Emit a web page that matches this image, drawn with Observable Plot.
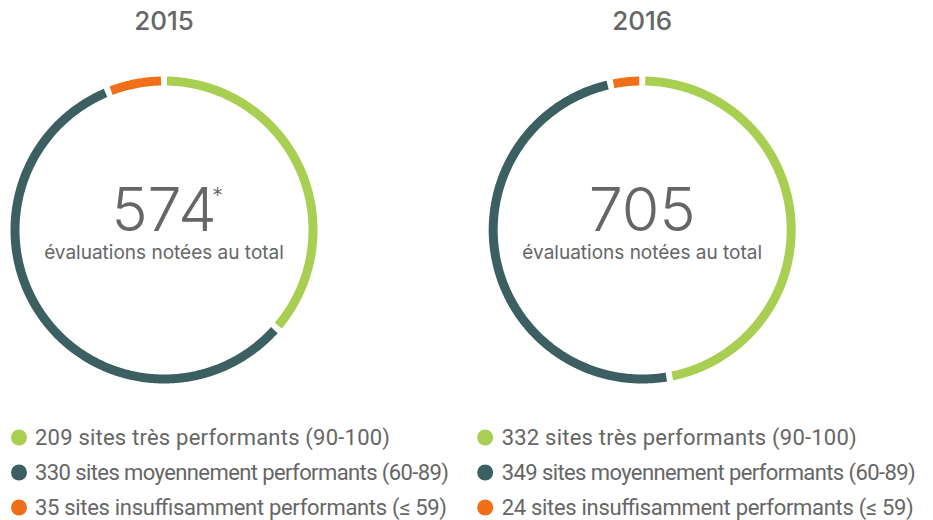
<!DOCTYPE html>
<html><head><meta charset="utf-8">
<script src="https://cdn.jsdelivr.net/npm/d3@7"></script>
<script src="https://cdn.jsdelivr.net/npm/@observablehq/plot@0.6"></script>
<style>body{margin:0;background:#fff;}</style>
</head><body><div id="chart"></div>
<script>
const years = ["2015", "2016"];
const categories = ["sites très performants (90-100)", "sites moyennement performants (60-89)", "sites insuffisamment performants (≤ 59)"];
const values2015 = [209, 330, 35];
const values2016 = [332, 349, 24];
const totalNotes = ["*", ""];
const centerLabel = "évaluations notées au total";

const palette = ["#a8cf52", "#3c5f62", "#f26f1a"];
const W = 933, H = 520;
const cx = [163.5, 641.7], cy = 229.5, R = 149, ring = 9, gap = 6 / R;
const font = "Inter, 'Noto Sans', sans-serif";
const legendFont = "Roboto, 'Liberation Sans', sans-serif";
const legendWidths = [355, 414, 412];
const grey = "#666666";

const series = [values2015, values2016];
const arcPts = [];
series.forEach((vals, i) => {
  const total = d3.sum(vals);
  let acc = 0;
  vals.forEach((v, j) => {
    const a0 = acc / total * 2 * Math.PI + gap / 2;
    acc += v;
    const a1 = acc / total * 2 * Math.PI - gap / 2;
    const n = Math.max(2, Math.ceil((a1 - a0) / (Math.PI / 360)));
    for (let k = 0; k <= n; k++) {
      const a = a0 + (a1 - a0) * k / n;
      arcPts.push({key: years[i] + "-" + j, cat: categories[j], px: cx[i] + R * Math.sin(a), py: cy - R * Math.cos(a)});
    }
  });
});
const centers = years.map((y, i) => ({year: y, i, total: d3.sum(series[i]), note: totalNotes[i]}));
const legendRows = series.flatMap((vals, i) => vals.map((v, j) => ({i, j, cat: categories[j], label: `${v} ${categories[j]}`})));
const dotX = [18.5, 484.7], textX = [34.5, 501.2], rowY0 = 437, rowStep = 35;

const chart = Plot.plot({
  width: W, height: H, margin: 0,
  style: {background: "#fff", fontFamily: font},
  x: {domain: [0, W], range: [0, W], axis: null},
  y: {domain: [0, H], range: [0, H], axis: null},
  color: {domain: categories, range: palette},
  marks: [
    Plot.line(arcPts, {x: "px", y: "py", z: "key", stroke: "cat", strokeWidth: ring, strokeLinecap: "butt", strokeLinejoin: "round", curve: "linear"}),
    Plot.text(centers, {x: d => cx[d.i], y: 21.5, text: "year", fontSize: 26, fontWeight: 500, fill: grey, fontFamily: font}),
    Plot.text(centers, {x: d => cx[d.i], y: 211, text: d => String(d.total), fontSize: 61, fontWeight: 300, fill: grey, fontFamily: font}),
    Plot.text(centers.filter(d => d.note), {x: d => cx[d.i] + 48, y: 195, text: "note", fontSize: 22, fontWeight: 300, fill: grey, textAnchor: "start", fontFamily: font}),
    Plot.text(centers, {x: d => cx[d.i], y: 252, text: () => centerLabel, fontSize: 19, fill: grey, fontFamily: font}),
    Plot.dot(legendRows, {x: d => dotX[d.i], y: d => rowY0 + d.j * rowStep, r: 8, fill: "cat"}),
    Plot.text(legendRows, {x: d => textX[d.i], y: d => rowY0 + d.j * rowStep, text: "label", fontSize: 22, fill: grey, textAnchor: "start", fontFamily: legendFont})
  ]
});
chart.querySelectorAll("g[font-family] text").forEach(t => {
  const g = t.closest("g[font-family]");
  if (g.getAttribute("font-family") !== legendFont) return;
  const row = legendRows.find(r => `${r.label}` === t.textContent);
  if (row) t.setAttribute("textLength", legendWidths[row.j]);
});
document.getElementById("chart").append(chart);
</script>
</body></html>
